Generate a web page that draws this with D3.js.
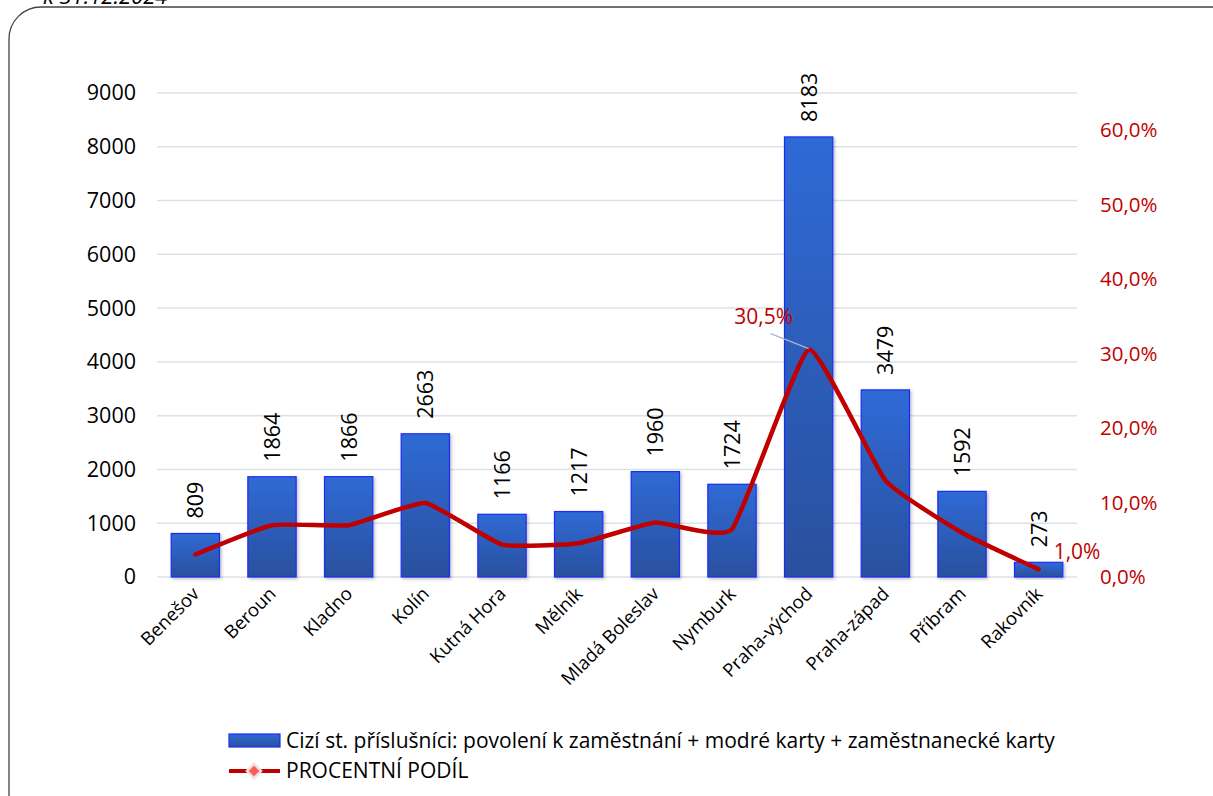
<!DOCTYPE html>
<html><head><meta charset="utf-8">
<script src="https://cdn.jsdelivr.net/npm/d3@7"></script>
<style>
html,body{margin:0;padding:0;background:#fff;overflow:hidden}
svg{display:block;font-family:"Open Sans",sans-serif}
</style></head>
<body>
<svg id="chart" width="1213" height="796"></svg>
<script>
const categories = ["Benešov","Beroun","Kladno","Kolín","Kutná Hora","Mělník","Mladá Boleslav","Nymburk","Praha-východ","Praha-západ","Příbram","Rakovník"];
const counts = [809,1864,1866,2663,1166,1217,1960,1724,8183,3479,1592,273];
const shares = [0.0302,0.0696,0.0696,0.0994,0.0435,0.0454,0.0731,0.0643,0.3054,0.1298,0.0594,0.0102];
const leftTicks = [0,1000,2000,3000,4000,5000,6000,7000,8000,9000];
const rightTicks = [0,0.1,0.2,0.3,0.4,0.5,0.6];
const shareLabels = {8:"30,5%",11:"1,0%"};
const barName = "Cizí st. příslušníci: povolení k zaměstnání + modré karty + zaměstnanecké karty";
const lineName = "PROCENTNÍ PODÍL";
const headerText = "k 31.12.2024";

const FONT = "'Open Sans',sans-serif";
const svg = d3.select("#chart");
const defs = svg.append("defs");
const grad = defs.append("linearGradient").attr("id","barGrad").attr("x1",0).attr("y1",0).attr("x2",0).attr("y2",1);
grad.append("stop").attr("offset","0%").attr("stop-color","#2f6ad6");
grad.append("stop").attr("offset","100%").attr("stop-color","#2a509e");
const flt = defs.append("filter").attr("id","sh").attr("x","-20%").attr("y","-20%").attr("width","140%").attr("height","140%");
flt.append("feDropShadow").attr("dx",1.5).attr("dy",1.5).attr("stdDeviation",1.5).attr("flood-color","#000").attr("flood-opacity",0.25);

// frame
svg.append("rect").attr("x",9).attr("y",7).attr("width",1240).attr("height",820).attr("rx",32)
  .attr("fill","none").attr("stroke","#444").attr("stroke-width",1.3);
svg.append("text").attr("x",43).attr("y",4).attr("font-size",22).attr("font-style","italic").attr("fill","#000").text(headerText);

const x = d3.scaleBand().domain(categories).range([157,1077]).paddingInner(0.37).paddingOuter(0.185);
const yL = d3.scaleLinear().domain([0,9000]).range([577,93]);
const yR = d3.scaleLinear().domain([0,0.65]).range([577,93]);

// grid
svg.append("g").selectAll("line").data(leftTicks).join("line")
  .attr("x1",157).attr("x2",1077).attr("y1",d=>yL(d)).attr("y2",d=>yL(d))
  .attr("stroke","#dce1e8").attr("stroke-width",1.5);

// left axis
const axL = svg.append("g").attr("transform","translate(157,0)")
  .call(d3.axisLeft(yL).tickValues(leftTicks).tickSize(0).tickPadding(21).tickFormat(d3.format("d")));
axL.select(".domain").remove();
axL.selectAll("text").attr("font-size",21.5).attr("fill","#000").attr("font-family",FONT);

// right axis
const fmtPct = d => (d*100).toFixed(1).replace(".",",")+"%";
const axR = svg.append("g").attr("transform","translate(1077,0)")
  .call(d3.axisRight(yR).tickValues(rightTicks).tickSize(0).tickPadding(23).tickFormat(fmtPct));
axR.select(".domain").remove();
axR.selectAll("text").attr("font-size",20.5).attr("fill","#c00000").attr("font-family",FONT);

// bars
svg.append("g").selectAll("rect").data(counts).join("rect")
  .attr("x",(d,i)=>x(categories[i])).attr("width",x.bandwidth())
  .attr("y",d=>yL(d)).attr("height",d=>yL(0)-yL(d))
  .attr("fill","url(#barGrad)").attr("stroke","#1f2cf5").attr("stroke-width",1.2).attr("filter","url(#sh)");

// bar value labels
svg.append("g").selectAll("text").data(counts).join("text")
  .attr("transform",(d,i)=>`translate(${x(categories[i])+x.bandwidth()/2+8},${yL(d)-15}) rotate(-90)`)
  .attr("font-size",21.5).attr("fill","#000").text(d=>d);

// x labels
svg.append("g").selectAll("text").data(categories).join("text")
  .attr("transform",d=>`translate(${x(d)+x.bandwidth()/2+5},${595}) rotate(-45)`)
  .attr("text-anchor","end").attr("font-size",18.5).attr("fill","#000").text(d=>d);

// line
const cx = i => x(categories[i])+x.bandwidth()/2;
const line = d3.line().x((d,i)=>cx(i)).y(d=>yR(d)).curve(d3.curveCardinal.tension(0.6));
svg.append("path").datum(shares).attr("d",line).attr("fill","none")
  .attr("stroke","#c00000").attr("stroke-width",4.5).attr("stroke-linejoin","round").attr("stroke-linecap","round");

// share labels
const i8 = 8, i11 = 11;
svg.append("line").attr("x1",cx(i8)-38).attr("y1",yR(shares[i8])-16).attr("x2",cx(i8)).attr("y2",yR(shares[i8])-1)
  .attr("stroke","#a6b5c9").attr("stroke-width",1.3);
svg.append("text").attr("x",cx(i8)-45).attr("y",yR(shares[i8])-26).attr("text-anchor","middle")
  .attr("font-size",21).attr("fill","#c00000").text(shareLabels[i8]);
svg.append("text").attr("x",cx(i11)+15).attr("y",yR(shares[i11])-10)
  .attr("font-size",21).attr("fill","#c00000").text(shareLabels[i11]);

// legend
const lg = svg.append("g");
lg.append("rect").attr("x",229).attr("y",734).attr("width",51).attr("height",13)
  .attr("fill","url(#barGrad)").attr("stroke","#1f2cf5").attr("stroke-width",1.2);
lg.append("text").attr("x",286).attr("y",748).attr("font-size",21).attr("fill","#000").text(barName);
lg.append("line").attr("x1",229).attr("x2",280).attr("y1",771).attr("y2",771).attr("stroke","#c00000").attr("stroke-width",4);
lg.append("rect").attr("x",249).attr("y",766).attr("width",10).attr("height",10).attr("transform","rotate(45,254,771)")
  .attr("fill","#ff5a5a").attr("stroke","#f0dede").attr("stroke-width",2.5);
lg.append("text").attr("x",286).attr("y",778).attr("font-size",21).attr("fill","#000").text(lineName);
</script>
</body></html>
